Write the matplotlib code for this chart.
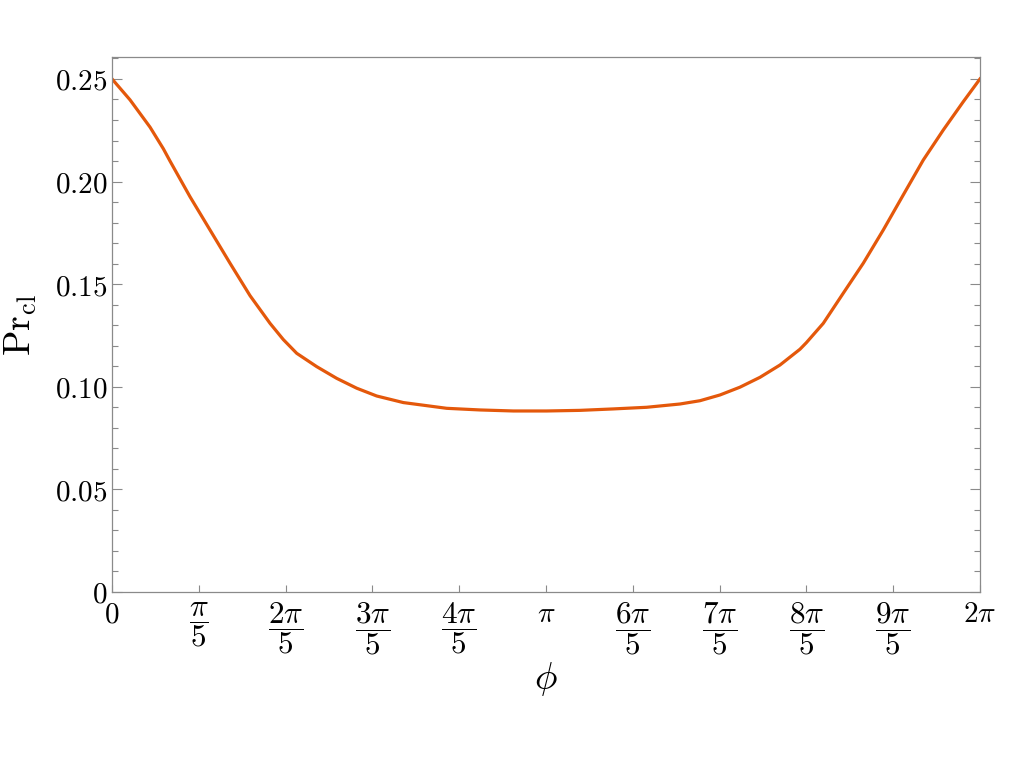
import matplotlib
matplotlib.use("Agg")
import matplotlib.pyplot as plt
import numpy as np
from matplotlib.ticker import FixedLocator, MultipleLocator

plt.rcParams["mathtext.fontset"] = "cm"
plt.rcParams["font.family"] = "serif"

# phi in units of pi
PHI_OVER_PI = [
    0.0, 0.0415, 0.0876, 0.1182, 0.1336, 0.1797, 0.2258, 0.2719, 0.3180, 0.3641,
    0.3947, 0.4256, 0.4717, 0.5177, 0.5638, 0.6099, 0.6712, 0.7712, 0.8479,
    0.9247, 1.0016, 1.0783, 1.1551, 1.2320, 1.3088, 1.3548, 1.4009, 1.4470,
    1.4931, 1.5392, 1.5853, 1.6000, 1.6389, 1.6850, 1.7311, 1.7772, 1.8233,
    1.8694, 1.9154, 1.9615, 2.0,
]
PR_CL = [
    0.2500, 0.2398, 0.2265, 0.2160, 0.2100, 0.1926, 0.1764, 0.1602, 0.1444, 0.1309,
    0.1230, 0.1163, 0.1098, 0.1041, 0.0993, 0.0955, 0.0923, 0.0895, 0.0887,
    0.0882, 0.0882, 0.0885, 0.0892, 0.0900, 0.0916, 0.0932, 0.0960, 0.0998,
    0.1046, 0.1106, 0.1183, 0.1215, 0.1309, 0.1456, 0.1602, 0.1764, 0.1935,
    0.2105, 0.2251, 0.2389, 0.2500,
]

X_TICK_LABELS = [
    r"$0$", r"$\dfrac{\pi}{5}$", r"$\dfrac{2\pi}{5}$", r"$\dfrac{3\pi}{5}$", r"$\dfrac{4\pi}{5}$",
    r"$\pi$", r"$\dfrac{6\pi}{5}$", r"$\dfrac{7\pi}{5}$", r"$\dfrac{8\pi}{5}$", r"$\dfrac{9\pi}{5}$",
    r"$2\pi$",
]
Y_TICKS = [0, 0.05, 0.10, 0.15, 0.20, 0.25]
Y_TICK_LABELS = [r"$0$", r"$0.05$", r"$0.10$", r"$0.15$", r"$0.20$", r"$0.25$"]

FRAME = "#8a8a8a"
LINE = "#e4580b"

fig = plt.figure(figsize=(10.24, 7.68), dpi=100)
ax = fig.add_axes([0.1094, 0.2292, 0.8476, 0.6966])

phi = np.array(PHI_OVER_PI) * np.pi
ax.plot(phi, PR_CL, color=LINE, lw=2.3, solid_joinstyle="round")

ax.set_xlim(0, 2 * np.pi)
ax.set_ylim(0, 0.2607)

ax.xaxis.set_major_locator(FixedLocator(np.arange(11) * np.pi / 5))
ax.set_xticklabels(X_TICK_LABELS, fontsize=21)
for lab in ax.get_xticklabels():
    if "frac" in lab.get_text():
        lab.set_fontsize(22.5)
ax.set_yticks(Y_TICKS)
ax.set_yticklabels(Y_TICK_LABELS, fontsize=21)
ax.yaxis.set_minor_locator(MultipleLocator(0.01))

ax.tick_params(axis="x", which="both", direction="in", length=5, width=0.8,
               color=FRAME, bottom=True, top=False, pad=6)
ax.tick_params(axis="y", which="major", direction="in", length=7, width=0.8,
               color=FRAME, left=True, right=True, pad=3)
ax.tick_params(axis="y", which="minor", direction="in", length=4, width=0.8,
               color=FRAME, left=True, right=True)

for s in ax.spines.values():
    s.set_color(FRAME)
    s.set_linewidth(0.9)

ax.set_xlabel(r"$\phi$", fontsize=27, labelpad=2)
ax.set_ylabel(r"$\mathrm{Pr}_{\mathrm{cl}}$", fontsize=27, labelpad=12)

fig.savefig("out.png", dpi=100)
